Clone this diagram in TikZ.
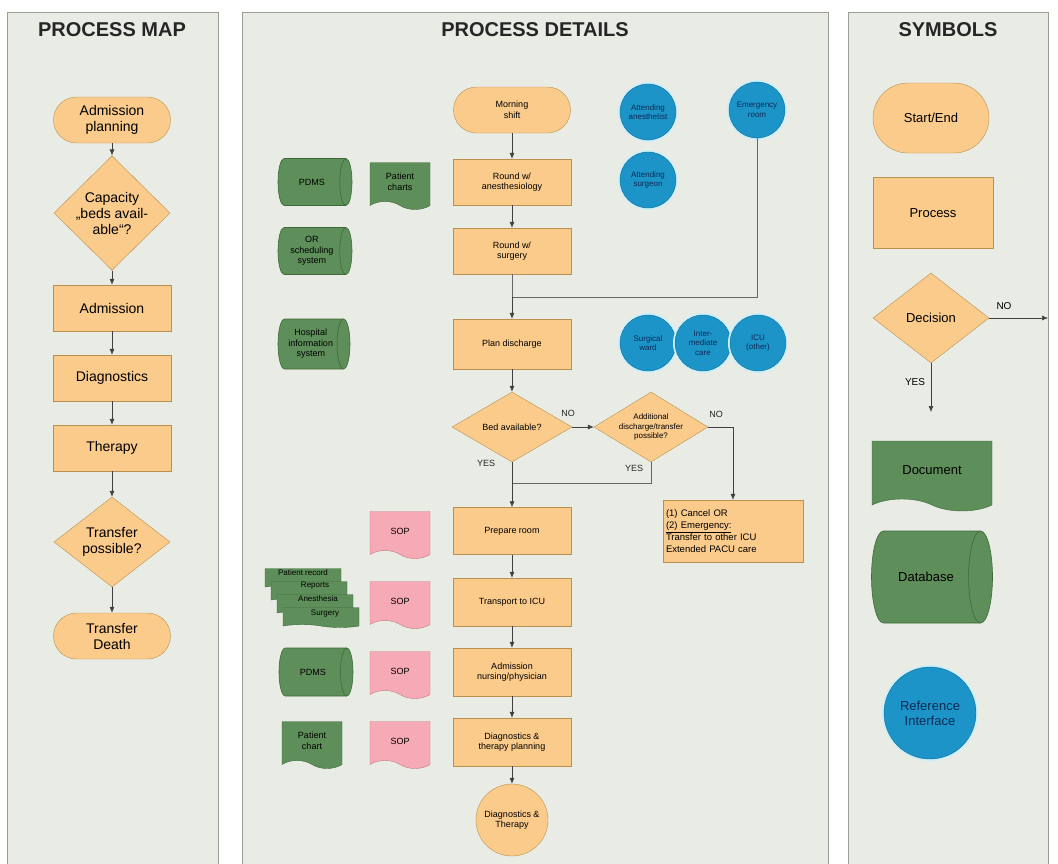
\documentclass[tikz,border=0pt]{standalone}
\usepackage{fontspec}
\setmainfont{Liberation Sans}
\usetikzlibrary{shapes.geometric,shapes.symbols,arrows.meta}
\definecolor{bg}{HTML}{E8ECE5}
\definecolor{frame}{HTML}{9A9E98}
\definecolor{orf}{HTML}{FBCB8C}
\definecolor{ord}{HTML}{B8904F}
\definecolor{grf}{HTML}{5E8E59}
\definecolor{grd}{HTML}{3E6A3A}
\definecolor{pkf}{HTML}{F6AAB5}
\definecolor{pkd}{HTML}{C07A84}
\definecolor{blf}{HTML}{1C94C8}
\definecolor{bld}{HTML}{156E95}
\definecolor{blt}{HTML}{0D2A55}
\newcommand\fttl{\fontsize{20}{22}\selectfont\bfseries}
\newcommand\fbig{\fontsize{14}{16}\selectfont}
\newcommand\fsym{\fontsize{13}{15}\selectfont}
\newcommand\fsm{\fontsize{9}{10.5}\selectfont}
\newcommand\fci{\fontsize{8}{9.5}\selectfont}
% database symbol: [node options]{name}{x}{y}{w}{h}{text}
\newcommand\dbnode[7][]{%
  \pgfmathsetmacro\dbrx{#6*0.13}%
  \path[dbsty] ({#3-#5/2+\dbrx},{#4-#6/2}) -- ({#3+#5/2-\dbrx},{#4-#6/2})
     arc[start angle=90,end angle=-90,x radius=\dbrx pt,y radius=#6/2*1pt]
     -- ({#3-#5/2+\dbrx},{#4+#6/2})
     arc[start angle=270,end angle=90,x radius=\dbrx pt,y radius=#6/2*1pt] -- cycle;
  \draw[dbin] ({#3+#5/2-\dbrx},{#4-#6/2})
     arc[start angle=90,end angle=270,x radius=\dbrx pt,y radius=#6/2*1pt];
  \node[dbtext,minimum width=#5pt,minimum height=#6pt,#1] (#2) at ({#3-\dbrx/2},#4) {#7};}
\begin{document}
\begin{tikzpicture}[x=1pt,y=-1pt,
  panel/.style={fill=bg,draw=frame,line width=0.8pt},
  ttl/.style={font=\fttl,text=black!85},
  term/.style={draw=ord,fill=orf,rounded corners=23pt,minimum width=117pt,minimum height=46pt,align=center,inner sep=1pt},
  proc/.style={draw=ord,fill=orf,minimum width=118pt,minimum height=46pt,align=center,inner sep=1pt},
  dec/.style={diamond,draw=ord,fill=orf,minimum width=116pt,minimum height=90pt,inner sep=0pt,align=center},
  dbsty/.style={draw=grd,fill=grf,line width=0.6pt},
  dbin/.style={draw=grd,line width=0.6pt},
  dbtext/.style={align=center,inner sep=0pt},
  doc/.style={tape,tape bend top=none,tape bend bottom=out and in,tape bend height=8pt,draw=grd,fill=grf,minimum width=60pt,minimum height=47pt,align=center,inner sep=1pt},
  sop/.style={doc,draw=pkd,fill=pkf},
  stk/.style={tape,tape bend top=none,tape bend bottom=out and in,tape bend height=3pt,draw=grd,fill=grf,minimum width=76pt,minimum height=20pt,inner sep=0pt},
  refc/.style={circle,fill=blf,draw=bld,text=blt,minimum size=56pt,inner sep=0pt,align=center,font=\fci,preaction={draw=white!80!cyan,line width=4pt}},
  arr/.style={-{Latex[length=6pt,width=5pt]},line width=0.6pt,draw=black!75},
  ln/.style={line width=0.6pt,draw=black!60},
  lab/.style={font=\fsm,text=black!85}
]
\useasboundingbox (0,0) rectangle (1058,863);
\fill[white] (0,0) rectangle (1058,863);
% panels
\path[panel] (7,12) rectangle (218,875);
\path[panel] (242,12) rectangle (828,875);
\path[panel] (848,12) rectangle (1048,875);
\node[ttl] (t1) at (112,30) {PROCESS MAP};
\node[ttl] (t2) at (535,30) {PROCESS DETAILS};
\node[ttl] (t3) at (948,30) {SYMBOLS};

% ---------- process map
\begin{scope}[every node/.append style={font=\fbig}]
\node[term] (pm1) at (112,120) {Admission\\planning};
\node[dec] (pm2) at (112,213) {Capacity\\„beds avail-\\able“?};
\node[proc] (pm3) at (112,308) {Admission};
\node[proc] (pm4) at (112,378) {Diagnostics};
\node[proc] (pm5) at (112,448) {Therapy};
\node[dec,minimum height=90pt] (pm6) at (112,542) {Transfer\\possible?};
\node[term] (pm7) at (112,636) {Transfer\\Death};
\end{scope}
\draw[arr] (pm1) -- (pm2);
\draw[arr] (pm2) -- (pm3);
\draw[arr] (pm3) -- (pm4);
\draw[arr] (pm4) -- (pm5);
\draw[arr] (pm5) -- (pm6);
\draw[arr] (pm6) -- (pm7);

% ---------- process details: main column
\begin{scope}[every node/.append style={font=\fsm}]
\node[term] (md1) at (512,110) {Morning\\shift};
\node[proc] (md2) at (512,182) {Round w/\\anesthesiology};
\node[proc] (md3) at (512,251) {Round w/\\surgery};
\node[proc,minimum height=50pt] (md4) at (512,344) {Plan discharge};
\node[dec,minimum width=120pt,minimum height=70pt] (md5) at (512,427) {Bed available?};
\node[dec,aspect=1.63,minimum width=114pt,minimum height=70pt,font=\fontsize{8}{9.2}\selectfont] (md6) at (651,427) {Additional\\discharge/transfer\\possible?};
\node[proc,minimum width=140pt,minimum height=62pt,text width=134pt,align=left,font=\fontsize{9.5}{12}\selectfont] (md7) at (733,531) {(1) Cancel OR\\\underline{(2) Emergency:}\\Transfer to other ICU\\Extended PACU care};
\node[proc,minimum height=47pt] (md8) at (512,531) {Prepare room};
\node[proc,minimum height=48pt] (md9) at (512,602) {Transport to ICU};
\node[proc,minimum height=48pt] (md10) at (512,672) {Admission\\nursing/physician};
\node[proc,minimum height=48pt] (md11) at (512,742) {Diagnostics \&\\therapy planning};
\node[circle,draw=ord,fill=orf,minimum size=72pt,inner sep=0pt,align=center] (md12) at (512,820) {Diagnostics \&\\Therapy};
% side symbols
\dbnode{db1}{315}{182}{74}{47}{PDMS}
\dbnode{db2}{315}{251}{74}{47}{OR\\scheduling\\system}
\dbnode{db3}{314}{344}{72}{50}{Hospital\\information\\system}
\dbnode{db4}{316}{672}{74}{48}{PDMS}
\node[doc] (pc1) at (400,182) {Patient\\charts};
\node[doc] (pc2) at (312,741) {Patient\\chart};
\node[sop] (sop1) at (400,531) {SOP};
\node[sop] (sop2) at (400,601) {SOP};
\node[sop] (sop3) at (400,671) {SOP};
\node[sop] (sop4) at (400,741) {SOP};
\node[stk] (st1) at (303,577) {};
\node[stk] (st2) at (309,590) {};
\node[stk] (st3) at (315,603) {};
\node[stk] (st4) at (321,616) {};
\node[font=\fci] (sl1) at (303,573) {Patient record};
\node[font=\fci] (sl2) at (315,586) {Reports};
\node[font=\fci] (sl3) at (318,599) {Anesthesia};
\node[font=\fci] (sl4) at (325,614) {Surgery};
\end{scope}
% circles
\node[refc] (an) at (648,112) {Attending\\anesthetist};
\node[refc] (er) at (757,110) {Emergency\\room};
\node[refc] (asg) at (648,180) {Attending\\surgeon};
\node[refc] (sw) at (648,343) {Surgical\\ward};
\node[refc] (im) at (703,343) {Inter-\\mediate\\care};
\node[refc] (icu) at (758,343) {ICU\\(other)};

\coordinate (j1) at (512,297);
\coordinate (j2) at (512,483);
\draw[arr] (md1) -- (md2);
\draw[arr] (md2) -- (md3);
\draw[ln] (md3) -- (j1);
\draw[ln] (er.south) |- (j1);
\draw[arr] (j1) -- (md4);
\draw[arr] (md4) -- (md5);
\draw[arr] (md5.east) -- (md6.west);
\draw[arr] (md6.east) -| (md7.north);
\draw[ln] (md6.south) |- (j2);
\draw[arr] (md5.south) -- (md8);
\draw[arr] (md8) -- (md9);
\draw[arr] (md9) -- (md10);
\draw[arr] (md10) -- (md11);
\draw[arr] (md11) -- (md12);
\node[lab] (n1) at (568,413) {NO};
\node[lab] (n2) at (716,414) {NO};
\node[lab] (y1) at (486,463) {YES};
\node[lab] (y2) at (634,468) {YES};

% ---------- symbols
\begin{scope}[every node/.append style={font=\fsym}]
\node[term,rounded corners=35pt,minimum width=116pt,minimum height=70pt] (sy1) at (931,118) {Start/End};
\node[proc,minimum width=120pt,minimum height=71pt] (sy2) at (933,213) {Process};
\node[dec,minimum width=116pt,minimum height=90pt] (sy3) at (931,318) {Decision};
\node[doc,minimum width=120pt,minimum height=70pt,tape bend height=12pt] (sy4) at (932,470) {Document};
\dbnode{sy5}{932}{577}{121}{92}{Database}
\node[refc,font=\fsym,minimum size=92pt] (sy6) at (930,713) {Reference\\Interface};
\node[font=\fontsize{10}{12}\selectfont] (sn) at (1004,306) {NO};
\node[font=\fontsize{10}{12}\selectfont] (sy) at (915,382) {YES};
\end{scope}
\coordinate (se) at (1048,318);
\coordinate (ss) at (931,412);
\draw[arr] (sy3.east) -- (se);
\draw[arr] (sy3.south) -- (ss);
\end{tikzpicture}
\end{document}
